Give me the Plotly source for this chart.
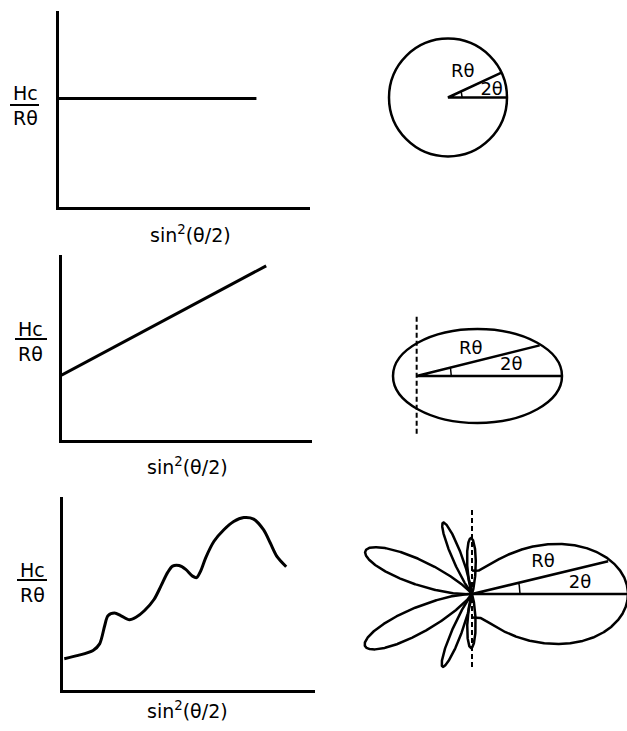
import numpy as np
import plotly.graph_objects as go

W, H = 627, 731

# ---------------- data (left column: Hc/Rθ versus sin²(θ/2)) ----------------
const_x = [0.0, 0.787]
const_y = [0.553, 0.553]

linear_x = [0.0, 0.817]
linear_y = [0.349, 0.941]

wavy_x = [0.007, 0.062, 0.121, 0.147, 0.167, 0.180, 0.206, 0.232, 0.265, 0.291,
          0.324, 0.363, 0.390, 0.416, 0.436, 0.462, 0.488, 0.515, 0.531, 0.547,
          0.567, 0.600, 0.639, 0.678, 0.718, 0.757, 0.796, 0.823, 0.849, 0.886]
wavy_y = [0.160, 0.177, 0.203, 0.237, 0.331, 0.383, 0.397, 0.383, 0.362, 0.375,
          0.409, 0.469, 0.538, 0.607, 0.641, 0.644, 0.624, 0.589, 0.581, 0.615,
          0.684, 0.770, 0.830, 0.873, 0.893, 0.885, 0.830, 0.761, 0.692, 0.638]

x_label = "sin<sup>2</sup>(θ/2)"
y_label = "Hc<br>Rθ"

# ---------------- diagram parameters (right column) ----------------
circle_radius = 1.0
circle_angle_deg = 25.0

ellipse_a, ellipse_b = 1.0, 0.556
ellipse_origin_x = -0.72
ellipse_angle_deg = 14.0
ellipse_r_len = 1.5
ellipse_dash_y = [0.70, -0.72]

lobe_dir_deg = [0, 158, 206, 112, 248, 91, 269]
lobe_len = [1.56, 1.15, 1.19, 0.77, 0.785, 0.56, 0.54]
lobe_sharp = [3.8, 30, 30, 90, 90, 60, 60]
lobe_base = [0.15, 0, 0, 0, 0, 0, 0]
lobe_angle_deg = 13.5
lobe_r_len = 1.4
lobe_dash_y = [0.84, -0.73]

diagram_labels = ["Rθ", "2θ"]
circle_label_x, circle_label_y = [0.25, 0.74], [0.43, 0.12]
ellipse_label_x, ellipse_label_y = [-0.08, 0.40], [0.31, 0.12]
lobe_label_x, lobe_label_y = [0.71, 1.08], [0.32, 0.11]

FONT = "DejaVu Sans"
LW = 3

fig = go.Figure()
layout = dict(width=W, height=H, margin=dict(l=0, r=0, t=0, b=0),
              font=dict(family=FONT, size=18, color="black"),
              paper_bgcolor="white", plot_bgcolor="white", showlegend=False)
shapes, annotations = [], []


def px(x):
    return x / W


def py(y):
    return 1 - y / H


def left_axes(n, x0, x1, ytop, ybot):
    # axis lines are drawn just outside the domain, so nudge the domain inwards
    x0 += 1.5
    ybot -= 1.5
    sfx = "" if n == 1 else str(n)
    ax = dict(range=[0, 1], showgrid=False, zeroline=False,
              showticklabels=False, ticks="", showline=True, linecolor="black",
              linewidth=3, fixedrange=True)
    layout["xaxis" + sfx] = dict(ax, domain=[px(x0), px(x1)], anchor="y" + sfx)
    layout["yaxis" + sfx] = dict(ax, domain=[py(ybot), py(ytop)], anchor="x" + sfx)


def diagram_axes(n, cx, cy, unit, xr, yr):
    layout["xaxis%d" % n] = dict(domain=[px(cx + xr[0] * unit), px(cx + xr[1] * unit)], range=xr,
                                 visible=False, anchor="y%d" % n, fixedrange=True)
    layout["yaxis%d" % n] = dict(domain=[py(cy - yr[0] * unit), py(cy - yr[1] * unit)], range=yr,
                                 visible=False, anchor="x%d" % n, fixedrange=True)


def ylabel(xc, yc, ybar, xb0, xb1):
    annotations.append(dict(text=y_label, x=px(xc), y=py(yc), xref="paper", yref="paper",
                            showarrow=False, font=dict(family=FONT, size=19, color="black"),
                            xanchor="center", yanchor="middle", align="center"))
    shapes.append(dict(type="line", xref="paper", yref="paper", x0=px(xb0), x1=px(xb1),
                       y0=py(ybar), y1=py(ybar), line=dict(color="black", width=2)))


def xlabel(xc, yc):
    annotations.append(dict(text=x_label, x=px(xc), y=py(yc), xref="paper", yref="paper",
                            showarrow=False, font=dict(family=FONT, size=19, color="black"),
                            xanchor="center", yanchor="middle"))


def diag_text(xs, ys, n):
    fig.add_trace(go.Scatter(x=xs, y=ys, text=diagram_labels, mode="text",
                             textposition="middle center",
                             textfont=dict(family=FONT, size=18, color="black"),
                             xaxis="x%d" % n, yaxis="y%d" % n, cliponaxis=False))


line_style = dict(color="black", width=LW)

# ---- left panels ----
left_axes(1, 57, 310, 11, 208)
left_axes(2, 60, 312, 255, 441)
left_axes(3, 61, 315, 497, 691)

fig.add_trace(go.Scatter(x=const_x, y=const_y, mode="lines", line=line_style, xaxis="x", yaxis="y"))
fig.add_trace(go.Scatter(x=linear_x, y=linear_y, mode="lines", line=line_style, xaxis="x2", yaxis="y2"))
fig.add_trace(go.Scatter(x=wavy_x, y=wavy_y, mode="lines",
                         line=dict(color="black", width=LW, shape="spline", smoothing=0.8),
                         xaxis="x3", yaxis="y3"))

ylabel(25, 105.5, 105, 10, 39)
ylabel(30, 341, 339, 15, 47)
ylabel(32, 582.5, 580, 17, 47)
xlabel(190, 234)
xlabel(188, 466)
xlabel(187, 710)

# ---- diagram 1: circle ----
diagram_axes(4, 448, 97.5, 59, [-1.25, 1.25], [-1.25, 1.25])
shapes.append(dict(type="circle", xref="x4", yref="y4", x0=-circle_radius, x1=circle_radius,
                   y0=-circle_radius, y1=circle_radius, line=dict(color="black", width=2.5)))
a = np.deg2rad(circle_angle_deg)
fig.add_trace(go.Scatter(x=[circle_radius, 0, circle_radius * np.cos(a)], y=[0, 0, circle_radius * np.sin(a)],
                         mode="lines", line=dict(color="black", width=2.5), xaxis="x4", yaxis="y4"))
t = np.linspace(0, a, 20)
fig.add_trace(go.Scatter(x=0.24 * np.cos(t), y=0.24 * np.sin(t), mode="lines",
                         line=dict(color="black", width=1.5), xaxis="x4", yaxis="y4"))
diag_text(circle_label_x, circle_label_y, 4)

# ---- diagram 2: ellipse ----
diagram_axes(5, 477.5, 376, 84.5, [-1.2, 1.2], [-1.2, 1.2])
shapes.append(dict(type="circle", xref="x5", yref="y5", x0=-ellipse_a, x1=ellipse_a,
                   y0=-ellipse_b, y1=ellipse_b, line=dict(color="black", width=2.5)))
a = np.deg2rad(ellipse_angle_deg)
fig.add_trace(go.Scatter(x=[ellipse_a, ellipse_origin_x, ellipse_origin_x + ellipse_r_len * np.cos(a)],
                         y=[0, 0, ellipse_r_len * np.sin(a)], mode="lines",
                         line=dict(color="black", width=2.5), xaxis="x5", yaxis="y5"))
t = np.linspace(0, a, 20)
fig.add_trace(go.Scatter(x=ellipse_origin_x + 0.41 * np.cos(t), y=0.41 * np.sin(t), mode="lines",
                         line=dict(color="black", width=1.5), xaxis="x5", yaxis="y5"))
fig.add_trace(go.Scatter(x=[ellipse_origin_x, ellipse_origin_x], y=ellipse_dash_y, mode="lines",
                         line=dict(color="black", width=2, dash="5px,3px"), xaxis="x5", yaxis="y5"))
diag_text(ellipse_label_x, ellipse_label_y, 5)

# ---- diagram 3: multi-lobed pattern ----
diagram_axes(6, 472, 594, 100, [-1.2, 1.55], [-0.95, 0.95])
u = np.linspace(-np.pi / 2, np.pi / 2, 2001)
for d, L, p, c in zip(lobe_dir_deg, lobe_len, lobe_sharp, lobe_base):
    r = L * ((1 - c) * np.cos(u) ** p + c)
    ang = u + np.deg2rad(d)
    fig.add_trace(go.Scatter(x=r * np.cos(ang), y=r * np.sin(ang), mode="lines",
                             line=dict(color="black", width=2.5), xaxis="x6", yaxis="y6"))
a = np.deg2rad(lobe_angle_deg)
fig.add_trace(go.Scatter(x=[1.6, 0, lobe_r_len * np.cos(a)], y=[0, 0, lobe_r_len * np.sin(a)],
                         mode="lines", line=dict(color="black", width=2.5), xaxis="x6", yaxis="y6"))
t = np.linspace(0, a, 20)
fig.add_trace(go.Scatter(x=0.48 * np.cos(t), y=0.48 * np.sin(t), mode="lines",
                         line=dict(color="black", width=1.5), xaxis="x6", yaxis="y6"))
fig.add_trace(go.Scatter(x=[0, 0], y=lobe_dash_y, mode="lines",
                         line=dict(color="black", width=2, dash="5px,3px"), xaxis="x6", yaxis="y6"))
diag_text(lobe_label_x, lobe_label_y, 6)

layout["shapes"] = shapes
layout["annotations"] = annotations
fig.update_layout(**layout)
fig.write_html("out.html", config={"displayModeBar": False, "staticPlot": True},
               post_script="document.body.style.margin='0';document.body.style.padding='0';")
